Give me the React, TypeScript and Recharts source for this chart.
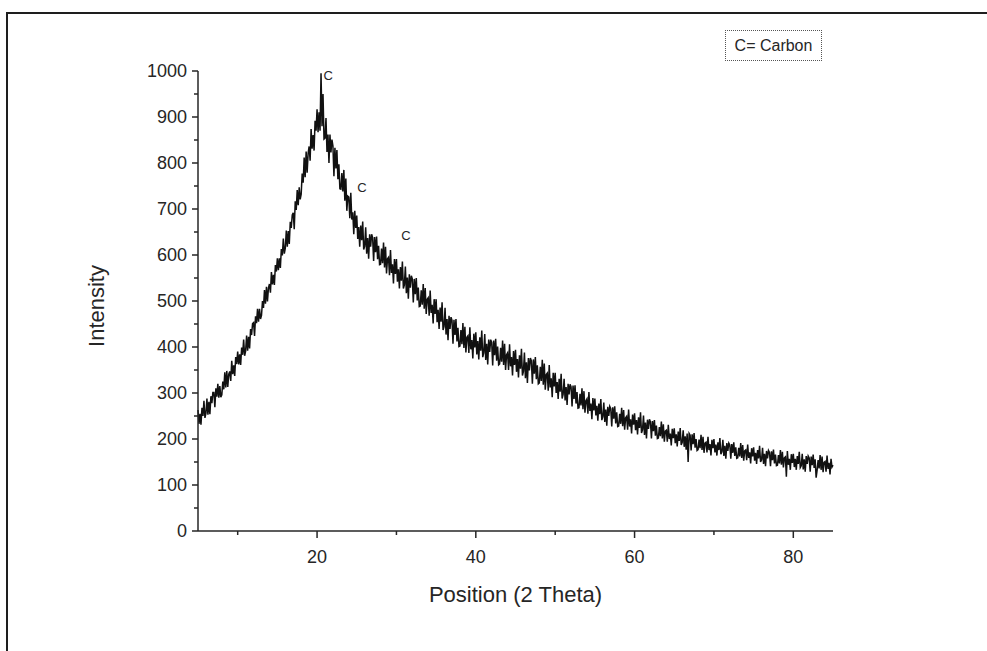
// XRD pattern - carbon, intensity vs 2 theta

import React from 'react';
import { LineChart, Line, XAxis, YAxis, ReferenceDot, Legend, Label } from 'recharts';

// scan goes 5 -> 85 deg (2 theta), 8 readings per degree
const scanStart = 5;
const scanStep = 0.125;

// each row: readings from n to n+0.875 in 0.125 steps (row 0 = 5 deg)
const intensityRows: number[][] = [
  [263, 233, 255, 231, 268, 250, 283, 246], // 5
  [256, 288, 253, 281, 254, 293, 278, 301],
  [301, 269, 310, 292, 320, 290, 315, 291],
  [296, 325, 308, 345, 312, 348, 313, 341],
  [347, 326, 370, 341, 360, 337, 378, 363],
  [390, 362, 384, 361, 399, 383, 416, 381], // 10
  [391, 425, 392, 422, 397, 439, 426, 451],
  [453, 424, 467, 452, 483, 455, 483, 461],
  [469, 500, 485, 524, 494, 531, 499, 528],
  [537, 518, 563, 536, 557, 535, 578, 564],
  [593, 567, 593, 572, 613, 599, 636, 603], // 15
  [615, 653, 618, 652, 624, 672, 659, 687],
  [692, 656, 717, 698, 741, 708, 747, 721],
  [732, 777, 757, 812, 769, 825, 779, 821],
  [836, 805, 874, 831, 861, 827, 892, 870],
  [917, 867, 910, 870, 995, 880, 950, 852], // 20
  [854, 898, 824, 862, 800, 862, 823, 851],
  [837, 771, 833, 788, 828, 765, 797, 744],
  [743, 778, 738, 785, 718, 766, 696, 728],
  [726, 680, 735, 677, 693, 645, 696, 659],
  [686, 635, 661, 618, 664, 632, 673, 612], // 25
  [619, 660, 603, 637, 592, 645, 618, 645],
  [638, 587, 639, 606, 640, 591, 620, 579],
  [580, 614, 582, 627, 573, 618, 560, 592],
  [595, 556, 611, 561, 580, 538, 591, 559],
  [591, 542, 569, 527, 574, 544, 586, 527], // 30
  [535, 575, 517, 551, 505, 558, 529, 555],
  [548, 497, 548, 515, 550, 501, 529, 488],
  [489, 523, 492, 537, 483, 528, 472, 504],
  [507, 468, 523, 474, 492, 451, 504, 472],
  [504, 454, 481, 439, 486, 455, 497, 437], // 35
  [445, 485, 427, 461, 415, 468, 439, 465],
  [458, 407, 459, 426, 461, 412, 442, 401],
  [402, 437, 406, 452, 398, 444, 388, 421],
  [424, 387, 443, 395, 415, 375, 429, 399],
  [432, 384, 413, 373, 421, 392, 436, 378], // 40
  [387, 428, 372, 407, 362, 416, 389, 416],
  [410, 360, 414, 382, 418, 370, 401, 361],
  [363, 398, 368, 414, 361, 407, 350, 383],
  [387, 350, 406, 358, 378, 338, 391, 361],
  [394, 346, 374, 334, 382, 353, 396, 338], // 45
  [347, 388, 332, 367, 322, 376, 349, 376],
  [370, 320, 373, 342, 378, 330, 360, 320],
  [322, 357, 326, 372, 318, 364, 307, 340],
  [343, 305, 361, 312, 332, 291, 344, 314],
  [344, 300, 324, 287, 331, 303, 342, 288], // 50
  [297, 331, 284, 313, 274, 320, 297, 319],
  [313, 271, 316, 287, 317, 277, 302, 267],
  [268, 298, 273, 310, 265, 304, 257, 283],
  [287, 255, 302, 261, 277, 243, 289, 262],
  [288, 251, 272, 240, 277, 254, 287, 241], // 55
  [248, 279, 237, 264, 229, 270, 250, 271],
  [266, 227, 269, 244, 271, 234, 258, 227],
  [228, 255, 233, 268, 228, 263, 220, 246],
  [249, 220, 264, 227, 243, 212, 253, 231],
  [256, 219, 241, 210, 247, 224, 258, 213], // 60
  [220, 251, 209, 236, 201, 242, 222, 243],
  [237, 201, 239, 217, 241, 207, 229, 201],
  [202, 226, 206, 238, 201, 232, 194, 217],
  [219, 194, 231, 200, 212, 186, 222, 202],
  [223, 191, 210, 184, 216, 196, 224, 187], // 65
  [192, 219, 183, 206, 177, 212, 150, 212],
  [208, 175, 210, 189, 213, 181, 200, 175],
  [177, 199, 180, 209, 176, 205, 170, 191],
  [193, 171, 205, 176, 189, 164, 198, 180],
  [200, 171, 188, 164, 193, 176, 202, 167], // 70
  [172, 198, 163, 185, 157, 191, 174, 191],
  [187, 157, 189, 170, 193, 163, 182, 158],
  [159, 181, 162, 191, 159, 187, 153, 174],
  [176, 154, 188, 159, 171, 147, 180, 162],
  [182, 153, 170, 146, 176, 158, 185, 150], // 75
  [155, 181, 146, 168, 141, 174, 158, 175],
  [171, 141, 173, 154, 177, 147, 166, 142],
  [143, 165, 147, 176, 144, 172, 138, 159],
  [161, 118, 174, 144, 157, 133, 167, 148],
  [168, 139, 157, 133, 163, 146, 172, 138], // 80
  [142, 168, 134, 156, 129, 163, 146, 163],
  [159, 129, 162, 143, 166, 137, 156, 116],
  [132, 154, 136, 165, 133, 162, 128, 149],
  [151, 129, 164, 135, 148, 123, 157, 139],
  [143], // 85
];

const xTicks = [10, 20, 30, 40, 50, 60, 70, 80];
const yTicks = [0, 50, 100, 150, 200, 250, 300, 350, 400, 450, 500, 550, 600, 650, 700, 750, 800, 850, 900, 950, 1000];

// "C" markers over the carbon reflections
const peakMarks = [
  { position: 21.4, intensity: 991, text: 'C' },
  { position: 25.65, intensity: 748, text: 'C' },
  { position: 31.2, intensity: 643, text: 'C' },
];
const legendText = 'C= Carbon';

const chartData = intensityRows.flatMap((row, i) =>
  row.map((v, j) => ({ position: scanStart + i + j * scanStep, intensity: v })),
);

const FONT = '"Liberation Sans", Arial, sans-serif';
const INK = '#262626';
const TICK_SIZE = 6;
const TICK_MARGIN = 2;

function YTick(props: any) {
  const { x, y, payload } = props;
  const axisX = x + TICK_SIZE + TICK_MARGIN;
  const major = payload.value % 100 === 0;
  return (
    <g>
      <line x1={axisX} x2={axisX - (major ? 6 : 4)} y1={y} y2={y} stroke={INK} strokeWidth={1.5} />
      {major && (
        <text x={axisX - 11} y={y} dy="0.36em" textAnchor="end" fontSize={18} fill={INK} fontFamily={FONT}>
          {payload.value}
        </text>
      )}
    </g>
  );
}

function XTick(props: any) {
  const { x, y, payload } = props;
  const axisY = y - TICK_SIZE - TICK_MARGIN;
  const major = payload.value % 20 === 0;
  return (
    <g>
      <line x1={x} x2={x} y1={axisY} y2={axisY + (major ? 7 : 4)} stroke={INK} strokeWidth={1.5} />
      {major && (
        <text x={x} y={axisY + 19} dy="0.71em" textAnchor="middle" fontSize={18} fill={INK} fontFamily={FONT}>
          {payload.value}
        </text>
      )}
    </g>
  );
}

export default function App() {
  return (
    <div style={{ position: 'absolute', left: 0, top: 0, width: 987, height: 651, background: '#fff', overflow: 'hidden' }}>
      <div
        style={{
          position: 'absolute',
          left: 6,
          top: 12,
          width: 990,
          height: 650,
          borderTop: '2px solid #1e1e1e',
          borderLeft: '2px solid #1e1e1e',
        }}
      />
      <div style={{ position: 'absolute', left: 0, top: 0 }}>
        <LineChart width={987} height={651} data={chartData} margin={{ top: 71, right: 154, left: 138, bottom: 45 }}>
          <XAxis
            dataKey="position"
            type="number"
            domain={[5, 85]}
            ticks={xTicks}
            interval={0}
            height={75}
            tickSize={TICK_SIZE}
            tickMargin={TICK_MARGIN}
            tickLine={false}
            tick={<XTick />}
            axisLine={{ stroke: INK, strokeWidth: 1.5 }}
          >
            <Label
              content={(p: any) => (
                <text
                  x={p.viewBox.x + p.viewBox.width / 2}
                  y={p.viewBox.y + 71}
                  textAnchor="middle"
                  fontSize={22}
                  fill={INK}
                  fontFamily={FONT}
                >
                  Position (2 Theta)
                </text>
              )}
            />
          </XAxis>
          <YAxis
            type="number"
            domain={[0, 1000]}
            ticks={yTicks}
            interval={0}
            width={60}
            tickSize={TICK_SIZE}
            tickMargin={TICK_MARGIN}
            tickLine={false}
            tick={<YTick />}
            axisLine={{ stroke: INK, strokeWidth: 1.5 }}
          >
            <Label
              content={(p: any) => {
                const cx = p.viewBox.x - 42;
                const cy = p.viewBox.y + p.viewBox.height / 2 + 5;
                return (
                  <text
                    transform={`translate(${cx} ${cy}) rotate(-90)`}
                    textAnchor="middle"
                    dy="0.36em"
                    fontSize={22}
                    fill={INK}
                    fontFamily={FONT}
                  >
                    Intensity
                  </text>
                );
              }}
            />
          </YAxis>
          <Legend
            layout="vertical"
            align="center"
            verticalAlign="middle"
            wrapperStyle={{ left: 725, top: 30, width: 'auto' }}
            content={() => (
              <div
                style={{
                  boxSizing: 'border-box',
                  width: 97,
                  height: 31,
                  border: '1px dotted #555',
                  display: 'flex',
                  alignItems: 'center',
                  justifyContent: 'center',
                  fontFamily: FONT,
                  fontSize: 16,
                  color: INK,
                }}
              >
                {legendText}
              </div>
            )}
          />
          <Line
            dataKey="intensity"
            type="linear"
            stroke="#111"
            strokeWidth={1.5}
            dot={false}
            isAnimationActive={false}
          />
          {peakMarks.map((m, i) => (
            <ReferenceDot
              key={i}
              x={m.position}
              y={m.intensity}
              r={0}
              fill="none"
              stroke="none"
              label={{ value: m.text, position: 'center', fontSize: 13, fill: INK, fontFamily: FONT }}
            />
          ))}
        </LineChart>
      </div>
    </div>
  );
}
